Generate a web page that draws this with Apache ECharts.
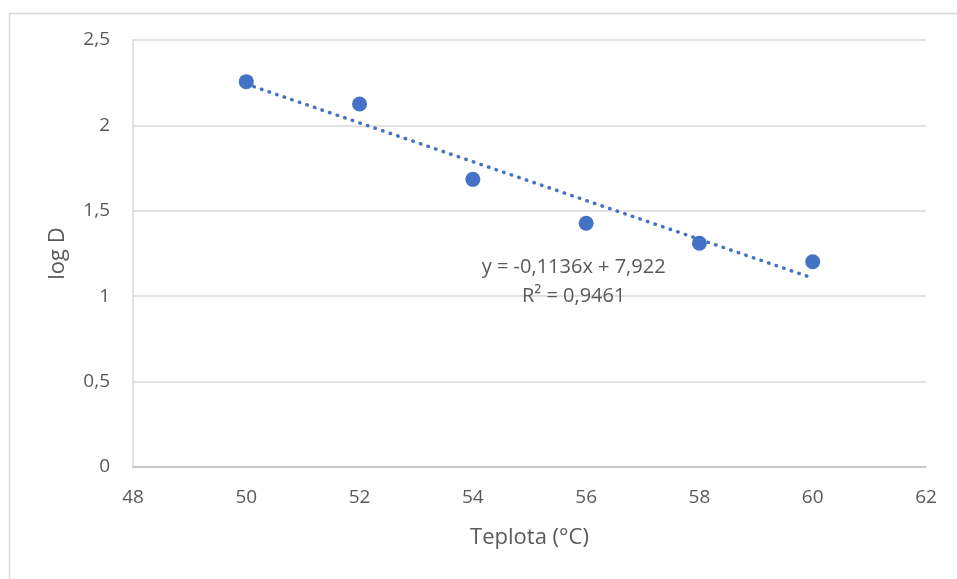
<!DOCTYPE html>
<html>
<head>
<meta charset="utf-8">
<script src="https://cdn.jsdelivr.net/npm/echarts@6/dist/echarts.min.js"></script>
<style>html,body{margin:0;padding:0;background:#fff}#c{width:957px;height:579px}</style>
</head>
<body>
<div id="c"></div>
<script>
var temps = [50, 52, 54, 56, 58, 60];
var logD = [2.256, 2.125, 1.684, 1.427, 1.310, 1.202];
var trendX = [50, 60];
var trendY = [2.242, 1.106];
var eqLines = ['y = -0,1136x + 7,922', 'R² = 0,9461'];
var xTitle = 'Teplota (°C)';
var yTitle = 'log D';

var chart = echarts.init(document.getElementById('c'), null, {renderer: 'canvas'});
var FONT = 'Open Sans';
var fmt = function (v) { return String(v).replace('.', ','); };
chart.setOption({
  animation: false,
  backgroundColor: '#fff',
  graphic: [{
    type: 'rect', left: 7, top: 11, z: 0,
    shape: {width: 960, height: 580},
    style: {fill: 'none', stroke: '#d9d9d9', lineWidth: 1.5}
  }],
  grid: {left: 133, right: 31, top: 40, bottom: 112},
  xAxis: {
    type: 'value', min: 48, max: 62, interval: 2,
    name: xTitle, nameLocation: 'middle', nameGap: 60,
    nameTextStyle: {color: '#595959', fontSize: 22, fontFamily: FONT},
    axisLine: {show: true, lineStyle: {color: '#bfbfbf', width: 1.5}},
    axisTick: {show: false},
    splitLine: {show: false},
    axisLabel: {color: '#595959', fontSize: 19, fontFamily: FONT, margin: 21}
  },
  yAxis: {
    type: 'value', min: 0, max: 2.5, interval: 0.5,
    name: yTitle, nameLocation: 'middle', nameGap: 64, nameRotate: 90,
    nameTextStyle: {color: '#595959', fontSize: 22, fontFamily: FONT},
    axisLine: {show: true, lineStyle: {color: '#d9d9d9', width: 1.5}},
    axisTick: {show: false},
    splitLine: {show: true, lineStyle: {color: '#d9d9d9', width: 1.5}},
    axisLabel: {color: '#595959', fontSize: 19, fontFamily: FONT, margin: 23, formatter: fmt}
  },
  series: [{
    type: 'line',
    data: trendX.map(function (x, i) { return [x, trendY[i]]; }),
    showSymbol: false, symbol: 'none',
    lineStyle: {color: '#4472C4', width: 3.5, type: [0.5, 7.5], cap: 'round'},
    z: 2,
    markPoint: {
      symbol: 'rect', symbolSize: 0,
      label: {show: true, position: 'inside', color: '#595959', fontSize: 20,
               fontFamily: FONT, lineHeight: 29, align: 'center',
               formatter: eqLines.join('\n')},
      data: [{coord: [55.78, 1.085]}]
    }
  }, {
    type: 'scatter',
    data: temps.map(function (x, i) { return [x, logD[i]]; }),
    symbolSize: 15,
    itemStyle: {color: '#4472C4', opacity: 1},
    z: 3
  }]
});
</script>
</body>
</html>
